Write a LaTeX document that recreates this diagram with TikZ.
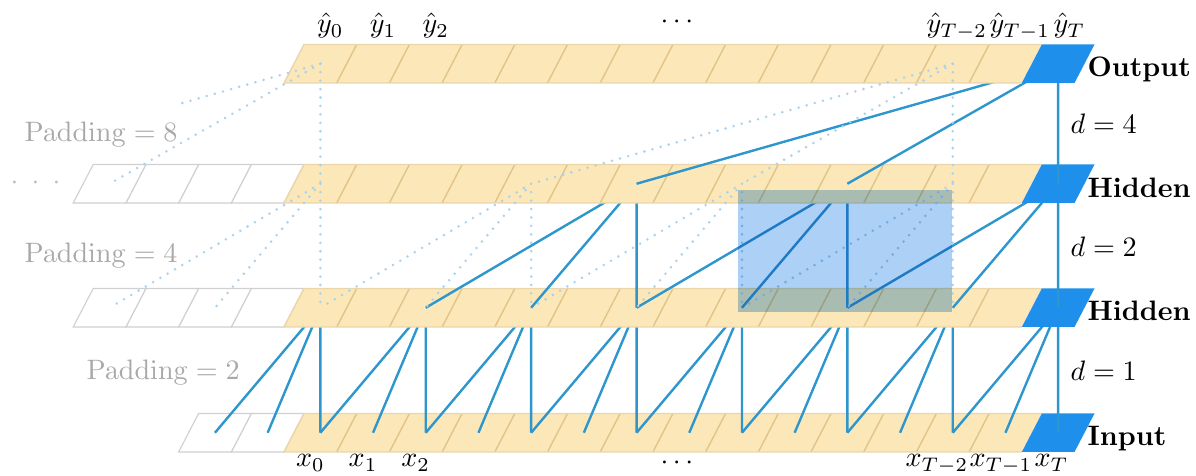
\documentclass[tikz,border=0pt]{standalone}
\usepackage{amsmath,amssymb}
\usepackage{tikz}
\usetikzlibrary{calc}
\definecolor{cellyellow}{RGB}{251,231,184}
\definecolor{celledge}{RGB}{226,196,136}
\definecolor{padedge}{RGB}{208,208,208}
\definecolor{cellblue}{RGB}{30,144,235}
\definecolor{linkblue}{RGB}{45,150,205}
\definecolor{dotblue}{RGB}{170,210,236}
\definecolor{boxblue}{RGB}{172,208,246}
\definecolor{padgray}{RGB}{168,168,168}
\newcommand{\cw}{52.7}
\newcommand{\sk}{20}
\newcommand{\ch}{38.5}
\newcommand{\layerstrip}[2]{%
  \ifnum#2>0
    \foreach \i in {1,...,#2}
      \path[padcell] ({284-\i*\cw},#1) -- ++(\cw,0) -- ++(\sk,-\ch) -- ++(-\cw,0) -- cycle;
  \fi
  \fill[cellyellow] (284,#1) -- ({284+14*\cw},#1) -- ++(\sk,-\ch) -- ({284+\sk},{#1-\ch}) -- cycle;
  \foreach \i in {1,...,13}
    \draw[celledge,line width=0.5pt] ({284+\i*\cw},#1) -- ++(\sk,-\ch);
  \draw[celledge!70,line width=0.5pt] ({284+14*\cw},#1) -- (284,#1) -- ++(\sk,-\ch) -- ({284+14*\cw+\sk},{#1-\ch});
  \fill[cellblue] ({284+14*\cw},#1) -- ++(\cw,0) -- ++(\sk,-\ch) -- ++(-\cw,0) -- cycle;}

\begin{document}
\begin{tikzpicture}[x=0.0125cm,y=-0.0125cm,
  link/.style={linkblue,line width=0.85pt},
  ghost/.style={dotblue,line width=1pt,line cap=round,dash pattern=on 0pt off 3pt},
  padcell/.style={draw=padedge,fill=white,line width=0.4pt},
  lbl/.style={anchor=base,inner sep=0pt},
  lblw/.style={anchor=base west,inner sep=0pt},
  side/.style={anchor=base west,inner sep=0pt},
  padtxt/.style={anchor=base west,inner sep=0pt,text=padgray}]
  \useasboundingbox (0,0) rectangle (1196,476);
  \foreach \L/\b in {in/452,hb/327,ha/203,out/83}
    \foreach \i in {-8,...,14}
      \coordinate (\L\i) at ({284+\i*\cw+\cw/2+\sk/2},{\b-\ch/2});

  \layerstrip{452}{2}
  \foreach \j in {0,2,...,14}{
    \pgfmathtruncatemacro\ja{\j-1}\pgfmathtruncatemacro\jb{\j-2}
    \draw[link] (in\jb) -- (hb\j) (in\ja) -- (hb\j) (in\j) -- (hb\j);}
  \layerstrip{327}{4}
  \foreach \j in {6,10,14}{
    \pgfmathtruncatemacro\ja{\j-2}\pgfmathtruncatemacro\jb{\j-4}
    \draw[link] (hb\jb) -- (ha\j) (hb\ja) -- (ha\j) (hb\j) -- (ha\j);}
  \layerstrip{203}{4}
  \draw[link] (ha6) -- (out14) (ha10) -- (out14) (ha14) -- (out14);
  \layerstrip{83}{0}

  \draw[ghost] (out0) -- (ha0) (out0) -- (ha-4) (ha0) -- (hb0) (ha0) -- (hb-2) (ha0) -- (hb-4);
  \draw[ghost,shorten >=3.6cm] (out0) -- (ha-8);
  \foreach \j in {4,8,12}{
    \pgfmathtruncatemacro\ja{\j-2}\pgfmathtruncatemacro\jb{\j-4}
    \draw[ghost] (out12) -- (ha\j) (ha\j) -- (hb\j) (ha\j) -- (hb\ja) (ha\j) -- (hb\jb);}

  \begin{scope}[blend mode=multiply]
    \fill[boxblue] (738,190) rectangle (952,312);
  \end{scope}

  \foreach \i/\t in {0/0,1/1,2/2}{
    \node[lbl] (yhat\i) at ({284+\i*\cw+\cw/2+\sk},33) {$\hat{y}_{\t}$};
    \node[lbl] (x\i) at ({284+\i*\cw+\cw/2},467) {$x_{\t}$};}
  \node[lblw] (yhat12) at (926,33) {$\hat{y}_{T-2}$};
  \node[lblw] (yhat13) at (989,33) {$\hat{y}_{T-1}$};
  \node[lblw] (yhat14) at (1053,33) {$\hat{y}_{T}$};
  \node[lblw] (x12) at (905,467) {$x_{T-2}$};
  \node[lblw] (x13) at (969,467) {$x_{T-1}$};
  \node[lblw] (x14) at (1034,467) {$x_{T}$};
  \node[lbl] (ydots) at ({284+7*\cw+\cw/2},29) {$\cdots$};
  \node[lbl] (xdots) at ({284+7*\cw+\cw/2},470) {$\cdots$};

  \node[side] (outlbl) at (1087,77) {\textbf{Output}};
  \node[side] (hidalbl) at (1087,198) {\textbf{Hidden}};
  \node[side] (hidblbl) at (1087,321) {\textbf{Hidden}};
  \node[side] (inlbl) at (1087,446) {\textbf{Input}};
  \node[anchor=west,inner sep=0pt] (d4) at (1070,124) {$d=4$};
  \node[anchor=west,inner sep=0pt] (d2) at (1070,247) {$d=2$};
  \node[anchor=west,inner sep=0pt] (d1) at (1070,371) {$d=1$};

  \node[padtxt] (pad8) at (24,142) {$\mathrm{Padding}=8$};
  \node[padtxt] (pad4) at (24,263) {$\mathrm{Padding}=4$};
  \node[padtxt] (pad2) at (86,380) {$\mathrm{Padding}=2$};
  \node[side,text=padgray!75] (moredots) at (10,190) {$\cdot$\hspace{4.7pt}$\cdot$\hspace{4.7pt}$\cdot$};
\end{tikzpicture}
\end{document}
